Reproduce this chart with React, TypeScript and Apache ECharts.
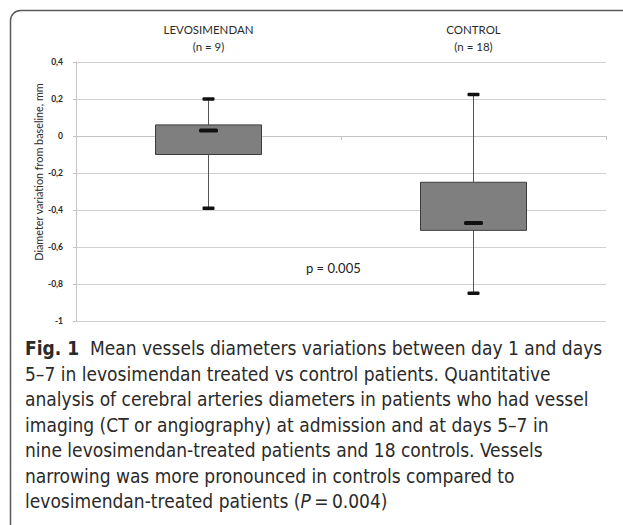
import React, { useEffect, useRef } from 'react';
import * as echarts from 'echarts';

const categories = ['LEVOSIMENDAN\n(n = 9)', 'CONTROL\n(n = 18)'];
const whiskerLow = [-0.39, -0.85];
const boxLow = [-0.1, -0.51];
const medians = [0.03, -0.47];
const boxHigh = [0.06, -0.25];
const whiskerHigh = [0.2, 0.225];
const yMin = -1;
const yMax = 0.4;
const yStep = 0.2;
const yAxisTitle = 'Diameter variation from baseline, mm';
const pValueLabel = 'p = 0.005';
const captionLines = [
  'Mean vessels diameters variations between day 1 and days',
  '5\u20137 in levosimendan treated vs control patients. Quantitative',
  'analysis of cerebral arteries diameters in patients who had vessel',
  'imaging (CT or angiography) at admission and at days 5\u20137 in',
  'nine levosimendan-treated patients and 18 controls. Vessels',
  'narrowing was more pronounced in controls compared to',
  'levosimendan-treated patients (',
];
const captionTitle = 'Fig. 1';

const chartFont = 'Lato, "Open Sans", sans-serif';
const captionFont = '"DejaVu Sans Condensed", "Noto Sans", sans-serif';
const captionSize = 19;
const captionTop = 348;
const captionStep = 25.5;
const captionColor = '#2a2a2a';

export default function App() {
  const ref = useRef<HTMLDivElement>(null);
  useEffect(() => {
    if (!ref.current) return;
    const chart = echarts.init(ref.current, undefined, { renderer: 'svg' });
    const data = categories.map((_, i) => [i, whiskerLow[i], boxLow[i], medians[i], boxHigh[i], whiskerHigh[i]]);

    const captionGraphics: any[] = captionLines.map((line, i) => {
      const base = { type: 'text', x: 25, y: captionTop + i * captionStep };
      const common = { font: `${captionSize}px ${captionFont}`, fill: captionColor, textVerticalAlign: 'middle', textAlign: 'left' };
      if (i === 0) {
        return {
          ...base,
          style: {
            ...common,
            text: `{b|${captionTitle}}  ${line}`,
            rich: { b: { fontWeight: 'bold', fontSize: captionSize, fontFamily: captionFont, fill: captionColor } },
          },
        };
      }
      if (i === captionLines.length - 1) {
        return {
          ...base,
          style: {
            ...common,
            text: `${line}{i|P}\u2009=\u20090.004)`,
            rich: { i: { fontStyle: 'italic', fontSize: captionSize, fontFamily: captionFont, fill: captionColor } },
          },
        };
      }
      return { ...base, style: { ...common, text: line } };
    });

    chart.setOption({
      animation: false,
      backgroundColor: '#ffffff',
      grid: { left: 76, right: 17, top: 62, bottom: 204, containLabel: false },
      xAxis: [
        {
          type: 'category', data: categories, position: 'top',
          axisLine: { show: false, onZero: false }, axisTick: { show: false },
          axisLabel: { margin: 7, fontSize: 11.5, lineHeight: 17, color: '#2b2b2b', fontFamily: chartFont },
          splitLine: { show: false },
        },
        {
          type: 'category', data: categories, position: 'bottom',
          axisLine: { show: true, onZero: true, lineStyle: { color: '#c4c4c4', width: 1 } },
          axisTick: { show: true, length: 4, lineStyle: { color: '#c4c4c4' } },
          axisLabel: { show: false }, splitLine: { show: false },
        },
      ],
      yAxis: {
        type: 'value', min: yMin, max: yMax, interval: yStep,
        axisLine: { show: true, lineStyle: { color: '#c4c4c4' } },
        axisTick: { show: true, length: 3, lineStyle: { color: '#c4c4c4' } },
        axisLabel: {
          margin: 13, fontSize: 8.5, fontWeight: 'bold', color: '#262626', fontFamily: chartFont,
          formatter: (v: number) => String(Number(v.toFixed(1))).replace('.', ','),
        },
        splitLine: { show: true, lineStyle: { color: '#d0d0d0', width: 1 } },
      },
      series: [
        {
          type: 'custom', xAxisIndex: 0, yAxisIndex: 0, data,
          renderItem: (_params: any, api: any) => {
            const idx = api.value(0);
            const pWL = api.coord([idx, api.value(1)]);
            const pBL = api.coord([idx, api.value(2)]);
            const pM = api.coord([idx, api.value(3)]);
            const pBH = api.coord([idx, api.value(4)]);
            const pWH = api.coord([idx, api.value(5)]);
            const xc = pWL[0];
            const bw = api.size([1, 0])[0] * 0.4;
            const lineStyle = { stroke: '#555555', lineWidth: 1 };
            return {
              type: 'group',
              children: [
                { type: 'line', shape: { x1: xc, y1: pWH[1], x2: xc, y2: pBH[1] }, style: lineStyle },
                { type: 'line', shape: { x1: xc, y1: pBL[1], x2: xc, y2: pWL[1] }, style: lineStyle },
                { type: 'rect', shape: { x: xc - bw / 2, y: pBH[1], width: bw, height: pBL[1] - pBH[1] }, style: { fill: '#7f7f7f', stroke: '#3c3c3c', lineWidth: 1 } },
                { type: 'rect', shape: { x: xc - 6, y: pWH[1] - 1.75, width: 12, height: 3.5, r: 1 }, style: { fill: '#111111' } },
                { type: 'rect', shape: { x: xc - 6, y: pWL[1] - 1.75, width: 12, height: 3.5, r: 1 }, style: { fill: '#111111' } },
                { type: 'rect', shape: { x: xc - 9.5, y: pM[1] - 2, width: 19, height: 4, r: 1.5 }, style: { fill: '#111111' } },
              ],
            };
          },
        },
      ],
      graphic: [
        {
          type: 'rect', left: 8, top: 8, z: -1,
          shape: { width: 630, height: 525, r: 10 },
          style: { fill: 'none', stroke: '#5a5a5a', lineWidth: 1.5 },
        },
        {
          type: 'text', x: 38, y: 172, rotation: Math.PI / 2,
          style: { text: yAxisTitle, font: `10.8px ${chartFont}`, fill: '#2b2b2b', textAlign: 'center', textVerticalAlign: 'middle' },
        },
        {
          type: 'text', x: 306, y: 268,
          style: { text: pValueLabel, font: `13px ${chartFont}`, fill: '#222', textAlign: 'left', textVerticalAlign: 'middle' },
        },
        ...captionGraphics,
      ],
    });
    return () => chart.dispose();
  }, []);
  return <div ref={ref} style={{ position: 'absolute', left: 0, top: 0, width: 623, height: 525 }} />;
}
